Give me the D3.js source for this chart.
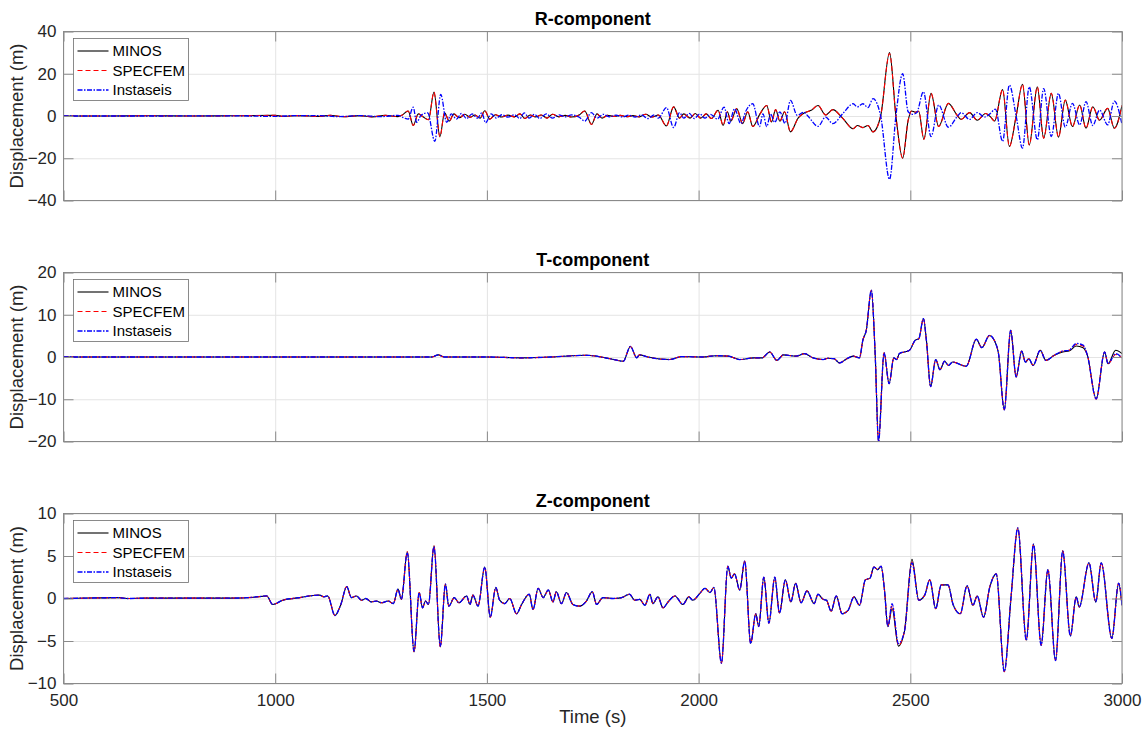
<!doctype html>
<html lang="en">
<head>
<meta charset="utf-8">
<title>R / T / Z components</title>
<script src="https://d3js.org/d3.v7.min.js" charset="utf-8"></script>
<style>
body { margin: 0; background: #fff; }
svg text { font-family: "Liberation Sans", Arial, Helvetica, sans-serif; fill: #262626; }
.grid line { stroke: #e4e4e4; stroke-width: 1; }
.grid path { display: none; }
.axis path { display: none; }
.axis line { stroke: #8a8a8a; }
.axis text { font-size: 17px; }
</style>
</head>
<body>
<svg id="chart" width="1145" height="731"></svg>
<script>
// ---- data (time in s, displacement in m) ----
var seriesNames = ["MINOS", "SPECFEM", "Instaseis"];
var xTicks = [500, 1000, 1500, 2000, 2500, 3000];
var rTicks = [-40, -20, 0, 20, 40];
var tTicks = [-20, -10, 0, 10, 20];
var zTicks = [-10, -5, 0, 5, 10];

// R-component
var rTime = [500,600,700,800,900,1000,1020,1050,1080,1100,
  1130,1160,1200,1230,1260,1290,1300,1314,1326,1338,
  1350,1362,1375,1389,1400,1411,1422,1435,1448,1460,
  1472,1484,1495,1507,1520,1535,1550,1565,1578,1590,
  1602,1615,1628,1642,1655,1670,1685,1700,1718,1731,
  1747,1760,1772,1785,1800,1815,1830,1845,1860,1875,
  1890,1905,1924,1941,1955,1965,1980,1992,2005,2018,
  2030,2046,2058,2068,2076,2090,2104,2116,2128,2145,
  2161,2172,2182,2192,2203,2217,2235,2250,2266,2282,
  2300,2317,2340,2365,2375,2388,2400,2412,2430,2451,
  2466,2482,2495,2503,2512,2520,2532,2549,2567,2590,
  2610,2620,2640,2658,2678,2690,2699,2718,2734,2750,
  2765,2781,2800,2815,2833,2850,2866,2883,2900,2915,
  2931,2947,2966,2982,3000];
var rMinos = [0,0,0.1,0,0.1,0.3,-0.2,0.2,0,-0.2,
  0.3,-0.3,0.2,-0.4,0.3,-0.3,0.5,2.4,-4.5,1.0,
  -0.5,-1.8,11.3,-9.8,1.5,-2.4,1.0,-0.8,0.8,-0.6,
  0.5,-1.0,2.5,-1.5,0.6,-0.5,0.4,-0.4,1.0,-1.2,
  0.5,-0.4,0.5,-1.0,0.8,-0.4,0.3,-0.5,0.5,2.4,
  -4.0,1.0,-1.0,0.3,-0.2,0.3,-0.3,0.2,-0.4,0.8,
  -0.5,0.5,-4.7,4.3,-1.0,1.0,-1.0,1.2,-1.0,1.0,
  -1.2,2.7,-4.4,2.0,-2.5,3.5,-3.6,2.0,-5.0,1.0,
  5.0,-2.8,3.0,-2.5,2.0,-7.5,-1.0,1.5,2.7,5.0,
  0.5,3.0,-1.0,-6.0,-4.5,-5.5,-4.5,-7.5,0,30,
  0,-20,-2,2.4,1.8,2.2,-11,10.7,-5,6,
  0.5,-1.6,1.6,-2.0,1.2,-0.5,-2.4,12.5,-14.4,0,
  15,-13.7,13.8,-10.5,10.7,-10,7.5,-5,5.2,-5.8,
  4.4,-2.0,3.6,-5.8,5];
var rSpecfem = [0,0,0.1,0,0.1,0.3,-0.2,0.2,0,-0.2,
  0.3,-0.3,0.2,-0.4,0.3,-0.3,0.5,2.4,-4.5,1.0,
  -0.5,-1.8,11.3,-9.8,1.5,-2.4,1.0,-0.8,0.8,-0.6,
  0.5,-1.0,2.5,-1.5,0.6,-0.5,0.4,-0.4,1.0,-1.2,
  0.5,-0.4,0.5,-1.0,0.8,-0.4,0.3,-0.5,0.5,2.4,
  -4.0,1.0,-1.0,0.3,-0.2,0.3,-0.3,0.2,-0.4,0.8,
  -0.5,0.5,-4.7,4.3,-1.0,1.0,-1.0,1.2,-1.0,1.0,
  -1.2,2.7,-4.4,2.0,-2.5,3.5,-3.6,2.0,-5.0,1.0,
  5.0,-2.8,3.0,-2.5,2.0,-7.5,-1.0,1.5,2.7,5.0,
  0.5,3.0,-1.0,-6.0,-4.5,-5.5,-4.5,-7.5,0,29.6,
  0,-19.8,-2,2.4,1.8,2.2,-11,10.7,-5,6,
  0.5,-1.6,1.6,-2.0,1.2,-0.5,-2.4,12.5,-14.4,0,
  15,-13.7,13.8,-10.5,10.7,-10,7.5,-5,5.2,-5.8,
  4.4,-2.0,3.6,-5.8,5];
var rTimeI = [500,700,900,1000,1050,1100,1150,1200,1250,1290,
  1305,1314,1326,1334,1345,1360,1377,1391,1405,1416,
  1428,1440,1452,1465,1478,1488,1497,1510,1522,1535,
  1550,1565,1578,1588,1600,1612,1625,1640,1655,1670,
  1685,1700,1718,1731,1747,1760,1775,1790,1805,1820,
  1835,1850,1865,1880,1895,1905,1924,1941,1955,1965,
  1978,1990,2003,2015,2028,2045,2060,2072,2085,2100,
  2112,2128,2144,2152,2161,2170,2180,2192,2204,2217,
  2233,2248,2258,2282,2300,2317,2340,2365,2375,2388,
  2400,2412,2430,2451,2466,2482,2495,2505,2515,2531,
  2549,2567,2590,2610,2620,2640,2658,2675,2688,2701,
  2718,2734,2750,2765,2781,2800,2815,2833,2850,2866,
  2883,2900,2915,2931,2947,2966,2982,3000];
var rInstaseis = [0,0,0.1,-0.2,0.2,0.2,-0.3,0.2,-0.3,0.3,
  -1.0,-1.5,4.2,-3.0,0.5,1.5,-12.0,10.2,-3.0,1.0,
  -1.5,1.2,-1.2,1.0,-1.0,1.5,-3.2,1.0,-1.0,0.6,
  -0.5,0.6,-1.2,1.5,-1.0,0.8,-1.2,1.0,-1.0,0.5,
  -0.4,0.5,-0.6,-2.4,1.6,-1.0,0.8,-0.4,0.4,-0.5,
  0.4,-0.5,0.5,-1.2,0.5,-1.0,4.0,-5.5,1.6,-1.0,
  1.2,-1.2,1.0,-1.0,0.8,-1.5,4.2,-3.6,3.4,-3.6,
  2.5,5.8,-5.0,1.0,-5.0,1.0,-3.0,2.0,-3.5,7.4,
  0.3,1.8,0,-4.9,-0.5,-3.6,1.0,5.8,4.3,5.8,
  4.0,8.2,0,-30,0,20,2,0.8,1.5,11.5,
  -9.7,5.2,-5.3,-0.5,1.6,-1.6,1.6,-0.5,1.0,3.3,
  -12,14.6,0,-15.2,13.8,-11.3,13,-9.7,10.7,-5.3,
  6,-4.2,6.8,-4.5,2.8,-4.2,7,-4];

// T-component
var tTime = [500,600,700,800,900,1000,1100,1200,1300,1370,
  1385,1400,1500,1580,1650,1735,1780,1800,1822,1839,
  1854,1860,1880,1932,1960,2009,2040,2070,2097,2130,
  2150,2168,2185,2200,2230,2250,2270,2294,2305,2320,
  2333,2350,2365,2380,2388,2396,2408,2417,2425,2438,
  2450,2461,2468,2474,2498,2512,2520,2531,2538,2548,
  2560,2570,2581,2590,2600,2632,2656,2669,2687,2700,
  2708,2722,2737,2750,2763,2772,2780,2790,2807,2820,
  2840,2860,2875,2892,2908,2918,2939,2959,2967,2985,
  3000];
var tMinos = [0,0,0,0,0,0,0,0,0,0,
  0.5,0,0,-0.2,0,0.4,-0.2,-0.6,-1.0,2.5,
  -0.2,0.5,0,-0.6,0.1,0,0.3,0.2,-0.6,-0.2,
  -0.2,1.2,-0.8,0.5,0.2,0.8,-0.2,-0.6,-0.3,-0.4,
  -1.4,-0.4,0.2,-0.2,4.0,6.3,15.8,0.8,-20,1.0,
  -6.3,-0.2,-0.6,0.8,1.6,4.0,4.3,9.1,4.0,-7.0,
  -0.6,-3.0,-1.0,-2.0,-1.2,-2.2,4.2,2.2,5.1,3.6,
  1.0,-12.5,6.3,-4.7,1.4,-1.2,-0.4,-2.0,1.6,-0.8,
  0.4,1.2,1.4,2.6,2.2,0.5,-9.9,1.2,-1.6,1.6,
  0.8];
var tSpecfem = [0,0,0,0,0,0,0,0,0,0,
  0.5,0,0,-0.2,0,0.4,-0.2,-0.6,-1.0,2.5,
  -0.2,0.5,0,-0.6,0.1,0,0.3,0.2,-0.6,-0.2,
  -0.2,1.2,-0.8,0.5,0.2,0.8,-0.2,-0.6,-0.3,-0.4,
  -1.4,-0.4,0.2,-0.2,4.0,6.3,15.8,0.8,-20,1.0,
  -6.3,-0.2,-0.6,0.8,1.6,4.0,4.3,9.1,4.0,-7.0,
  -0.6,-3.0,-1.0,-2.0,-1.2,-2.2,4.2,2.2,5.1,3.6,
  1.0,-12.5,6.3,-4.7,1.4,-1.2,-0.4,-2.0,1.6,-0.8,
  0.4,1.4,1.6,3.0,2.6,0.5,-10.0,1.2,-1.6,0.6,
  -0.2];
var tInstaseis = [0,0,0,0,0,0,0,0,0,0,
  0.5,0,0,-0.2,0,0.4,-0.2,-0.6,-1.0,2.5,
  -0.2,0.5,0,-0.6,0.1,0,0.3,0.2,-0.6,-0.2,
  -0.2,1.2,-0.8,0.5,0.2,0.8,-0.2,-0.6,-0.3,-0.4,
  -1.4,-0.4,0.2,-0.2,4.0,6.3,15.8,0.8,-20,1.0,
  -6.3,-0.2,-0.6,0.8,1.6,4.0,4.3,9.1,4.0,-7.0,
  -0.6,-3.0,-1.0,-2.0,-1.2,-2.2,4.2,2.2,5.1,3.6,
  1.0,-12.5,6.3,-4.7,1.4,-1.2,-0.4,-2.0,1.6,-0.8,
  0.4,1.4,1.6,3.2,2.8,0.5,-9.9,1.2,-1.6,0.8,
  -0.2];

// Z-component
var zTime = [500,560,630,650,700,800,900,950,980,994,
  1018,1058,1089,1105,1115,1124,1141,1155,1169,1180,
  1192,1204,1214,1227,1239,1251,1267,1279,1290,1298,
  1312,1328,1340,1348,1355,1362,1375,1390,1402,1410,
  1423,1434,1452,1460,1467,1479,1495,1508,1521,1530,
  1542,1554,1570,1582,1600,1609,1621,1633,1645,1656,
  1664,1676,1688,1703,1719,1735,1749,1759,1774,1798,
  1818,1837,1849,1861,1873,1885,1892,1904,1916,1928,
  1944,1963,1977,1986,2003,2015,2027,2036,2054,2069,
  2077,2085,2097,2109,2123,2135,2142,2154,2166,2180,
  2191,2205,2218,2229,2242,2256,2273,2282,2294,2302,
  2313,2325,2339,2353,2367,2380,2394,2405,2414,2423,
  2431,2439,2447,2457,2472,2486,2504,2520,2534,2546,
  2560,2573,2589,2601,2618,2634,2648,2658,2673,2688,
  2703,2722,2738,2754,2774,2791,2809,2825,2843,2860,
  2878,2892,2899,2922,2938,2951,2976,2992,3000];
var zMinos = [0,0.05,0.1,0,0.05,0.05,0.05,0.15,0.3,-0.7,
  -0.2,0.1,0.35,0.4,0.2,0.3,-2.0,-0.7,1.4,0.1,
  0.3,-0.2,0.0,-0.4,-0.3,-0.5,-0.3,-0.6,1.1,-0.1,
  5.5,-6.3,0.7,-1.1,-0.3,-0.7,6.2,-5.7,1.7,-0.9,
  0.1,-0.5,0.3,-0.7,0.4,-0.9,3.7,-2.2,1.3,-0.2,
  -0.6,0.0,-1.8,-0.7,0.5,-1.3,1.2,0.1,1.0,-0.4,
  0.8,-0.6,0.7,-0.7,-0.9,-0.3,0.8,-0.7,0.1,0.0,
  0.1,0.5,-0.2,-0.1,-0.8,0.5,-0.6,0.2,-1.1,-0.4,
  0.3,-0.7,0.2,-0.2,0.6,1.2,0.7,1.3,-7.6,3.8,
  2.4,2.9,1.0,4.4,-5.3,-1.8,-3.3,2.5,-2.9,2.5,
  -1.7,2.2,-0.4,1.8,-0.5,0.9,-0.6,0.5,-0.1,-0.2,
  -1.5,0.3,-1.8,-1.4,0.2,-0.8,2.2,2.4,3.7,3.4,
  3.8,1.0,-3.3,-1.2,-5.6,-3.9,4.6,-0.2,0.4,2.2,
  -1.2,1.6,1.6,-0.7,-1.8,1.5,-0.8,0.3,-2.2,1.4,
  2.9,-8.6,0.2,8.3,-4.9,6.4,-5.5,3.4,-7.3,5.6,
  -4.4,0.2,-1.0,4.2,-0.4,4.2,-4.7,1.8,-0.8];
var zSpecfem = [0,0.05,0.1,0,0.05,0.05,0.05,0.15,0.3,-0.7,
  -0.2,0.1,0.35,0.4,0.2,0.3,-2.0,-0.7,1.4,0.1,
  0.3,-0.2,0.0,-0.4,-0.3,-0.5,-0.3,-0.6,1.1,-0.1,
  5.5,-6.3,0.7,-1.1,-0.3,-0.7,6.2,-5.7,1.7,-0.9,
  0.1,-0.5,0.3,-0.7,0.4,-0.9,3.7,-2.2,1.3,-0.2,
  -0.6,0.0,-1.8,-0.7,0.5,-1.3,1.2,0.1,1.0,-0.4,
  0.8,-0.6,0.7,-0.7,-0.9,-0.3,0.8,-0.7,0.1,0.0,
  0.1,0.5,-0.2,-0.1,-0.8,0.5,-0.6,0.2,-1.1,-0.4,
  0.3,-0.7,0.2,-0.2,0.6,1.2,0.7,1.3,-7.6,3.8,
  2.4,2.9,1.0,4.4,-5.3,-1.8,-3.3,2.5,-2.9,2.5,
  -1.7,2.2,-0.4,1.8,-0.5,0.9,-0.6,0.5,-0.1,-0.2,
  -1.5,0.3,-1.8,-1.4,0.2,-0.8,2.2,2.4,3.7,3.4,
  3.8,1.0,-3.3,-0.8,-5.5,-3.9,4.3,-0.2,0.4,2.2,
  -1.2,1.6,1.6,-0.7,-1.8,1.5,-0.8,0.3,-2.2,1.4,
  2.9,-8.6,0.2,8.3,-4.9,6.4,-5.5,3.4,-7.3,5.6,
  -4.4,0.2,-1.0,4.2,-0.4,4.2,-4.7,1.8,-0.8];
var zInstaseis = [0,0.05,0.1,0,0.05,0.05,0.05,0.15,0.3,-0.7,
  -0.2,0.1,0.35,0.4,0.2,0.3,-2.0,-0.7,1.4,0.1,
  0.3,-0.2,0.0,-0.4,-0.3,-0.5,-0.3,-0.6,1.1,-0.1,
  5.4,-6.2,0.7,-1.1,-0.3,-0.7,6.1,-5.6,1.7,-0.9,
  0.1,-0.5,0.3,-0.7,0.4,-0.9,3.7,-2.2,1.3,-0.2,
  -0.6,0.0,-1.8,-0.7,0.5,-1.3,1.2,0.1,1.0,-0.4,
  0.8,-0.6,0.7,-0.7,-0.9,-0.3,0.8,-0.7,0.1,0.0,
  0.1,0.5,-0.2,-0.1,-0.8,0.5,-0.6,0.2,-1.1,-0.4,
  0.3,-0.7,0.2,-0.2,0.6,1.2,0.7,1.3,-7.6,3.8,
  2.4,2.9,1.0,4.4,-5.3,-1.8,-3.3,2.5,-2.9,2.5,
  -1.7,2.2,-0.4,1.8,-0.5,0.9,-0.6,0.5,-0.1,-0.2,
  -1.5,0.3,-1.8,-1.4,0.2,-0.8,2.2,2.4,3.7,3.4,
  3.8,1.0,-3.3,-0.6,-5.3,-3.9,4.2,-0.2,0.4,2.2,
  -1.2,1.6,1.6,-0.7,-1.8,1.5,-0.8,0.3,-2.2,1.4,
  2.9,-8.6,0.2,8.3,-4.9,6.4,-5.5,3.4,-7.3,5.6,
  -4.4,0.2,-1.0,4.2,-0.4,4.2,-4.7,1.8,-0.8];

// ---- layout ----
var left = 63.5, right = 1122;
var colors = ["#000000", "#ff0000", "#0000ff"];
var dashes = [null, "5,3", "5,1.5,1.5,1.5"];
var widths = [1.1, 1.1, 1.3];

var panels = [
  { title: "R-component", top: 31.5, bottom: 200.5, domain: [-40, 40], ticks: rTicks,
    t: [rTime, rTime, rTimeI], v: [rMinos, rSpecfem, rInstaseis] },
  { title: "T-component", top: 272.5, bottom: 441.5, domain: [-20, 20], ticks: tTicks,
    t: [tTime, tTime, tTime], v: [tMinos, tSpecfem, tInstaseis] },
  { title: "Z-component", top: 513.5, bottom: 683.5, domain: [-10, 10], ticks: zTicks,
    t: [zTime, zTime, zTime], v: [zMinos, zSpecfem, zInstaseis] }
];

var svg = d3.select("#chart");
var x = d3.scaleLinear().domain([500, 3000]).range([left, right]);

panels.forEach(function(p, pi) {
  var y = d3.scaleLinear().domain(p.domain).range([p.bottom, p.top]);
  var w = right - left, h = p.bottom - p.top;
  var g = svg.append("g");

  // grid
  g.append("g").attr("class", "grid")
    .attr("transform", "translate(0," + p.bottom + ")")
    .call(d3.axisBottom(x).tickValues(xTicks).tickSize(-h).tickFormat(""));
  g.append("g").attr("class", "grid")
    .attr("transform", "translate(" + left + ",0)")
    .call(d3.axisLeft(y).tickValues(p.ticks).tickSize(-w).tickFormat(""));

  // clip for traces
  svg.append("clipPath").attr("id", "clip" + pi)
    .append("rect").attr("x", left).attr("y", p.top).attr("width", w).attr("height", h);

  var line = d3.line()
    .x(function(d) { return x(d[0]); })
    .y(function(d) { return y(d[1]); })
    .curve(d3.curveMonotoneX);

  for (var s = 0; s < 3; s++) {
    g.append("path")
      .datum(d3.zip(p.t[s], p.v[s]))
      .attr("clip-path", "url(#clip" + pi + ")")
      .attr("fill", "none")
      .attr("stroke", colors[s])
      .attr("stroke-width", widths[s])
      .attr("stroke-dasharray", dashes[s])
      .attr("d", line);
  }

  // axes, ticks pointing inward on all four sides
  g.append("g").attr("class", "axis")
    .attr("transform", "translate(" + left + ",0)")
    .call(d3.axisLeft(y).tickValues(p.ticks).tickSize(-10).tickPadding(7).tickFormat(d3.format("d")));
  g.append("g").attr("class", "axis")
    .attr("transform", "translate(" + right + ",0)")
    .call(d3.axisRight(y).tickValues(p.ticks).tickSize(-10).tickFormat(""));
  g.append("g").attr("class", "axis")
    .attr("transform", "translate(0," + p.top + ")")
    .call(d3.axisTop(x).tickValues(xTicks).tickSize(-10).tickFormat(""));
  var bottomAxis = d3.axisBottom(x).tickValues(xTicks).tickSize(-10).tickPadding(10)
    .tickFormat(pi < 2 ? "" : d3.format("d"));
  g.append("g").attr("class", "axis")
    .attr("transform", "translate(0," + p.bottom + ")")
    .call(bottomAxis);

  g.append("rect")
    .attr("x", left).attr("y", p.top).attr("width", w).attr("height", h)
    .attr("fill", "none").attr("stroke", "#8a8a8a").attr("stroke-width", 1);

  // title
  g.append("text")
    .attr("x", (left + right) / 2).attr("y", p.top - 6.5)
    .attr("text-anchor", "middle")
    .style("font-size", "18px").style("font-weight", "bold")
    .style("fill", "#000")
    .text(p.title);

  // y label
  g.append("text")
    .attr("transform", "translate(23," + ((p.top + p.bottom) / 2) + ") rotate(-90)")
    .attr("text-anchor", "middle")
    .style("font-size", "18.5px")
    .text("Displacement (m)");

  // legend
  var lg = g.append("g").attr("transform", "translate(73.5," + (p.top + 7) + ")");
  lg.append("rect").attr("width", 115).attr("height", 62)
    .attr("fill", "#fff").attr("stroke", "#6e6e6e").attr("stroke-width", 0.8);
  seriesNames.forEach(function(name, i) {
    var cy = 12.5 + i * 19.5;
    lg.append("line")
      .attr("x1", 4).attr("x2", 35).attr("y1", cy).attr("y2", cy)
      .attr("stroke", colors[i]).attr("stroke-width", widths[i])
      .attr("stroke-dasharray", dashes[i]);
    lg.append("text")
      .attr("x", 39).attr("y", cy).attr("dy", "0.35em")
      .style("font-size", "15px").style("fill", "#000")
      .text(name);
  });
});

svg.append("text")
  .attr("x", (left + right) / 2).attr("y", 723)
  .attr("text-anchor", "middle")
  .style("font-size", "18.5px")
  .text("Time (s)");
</script>
</body>
</html>
